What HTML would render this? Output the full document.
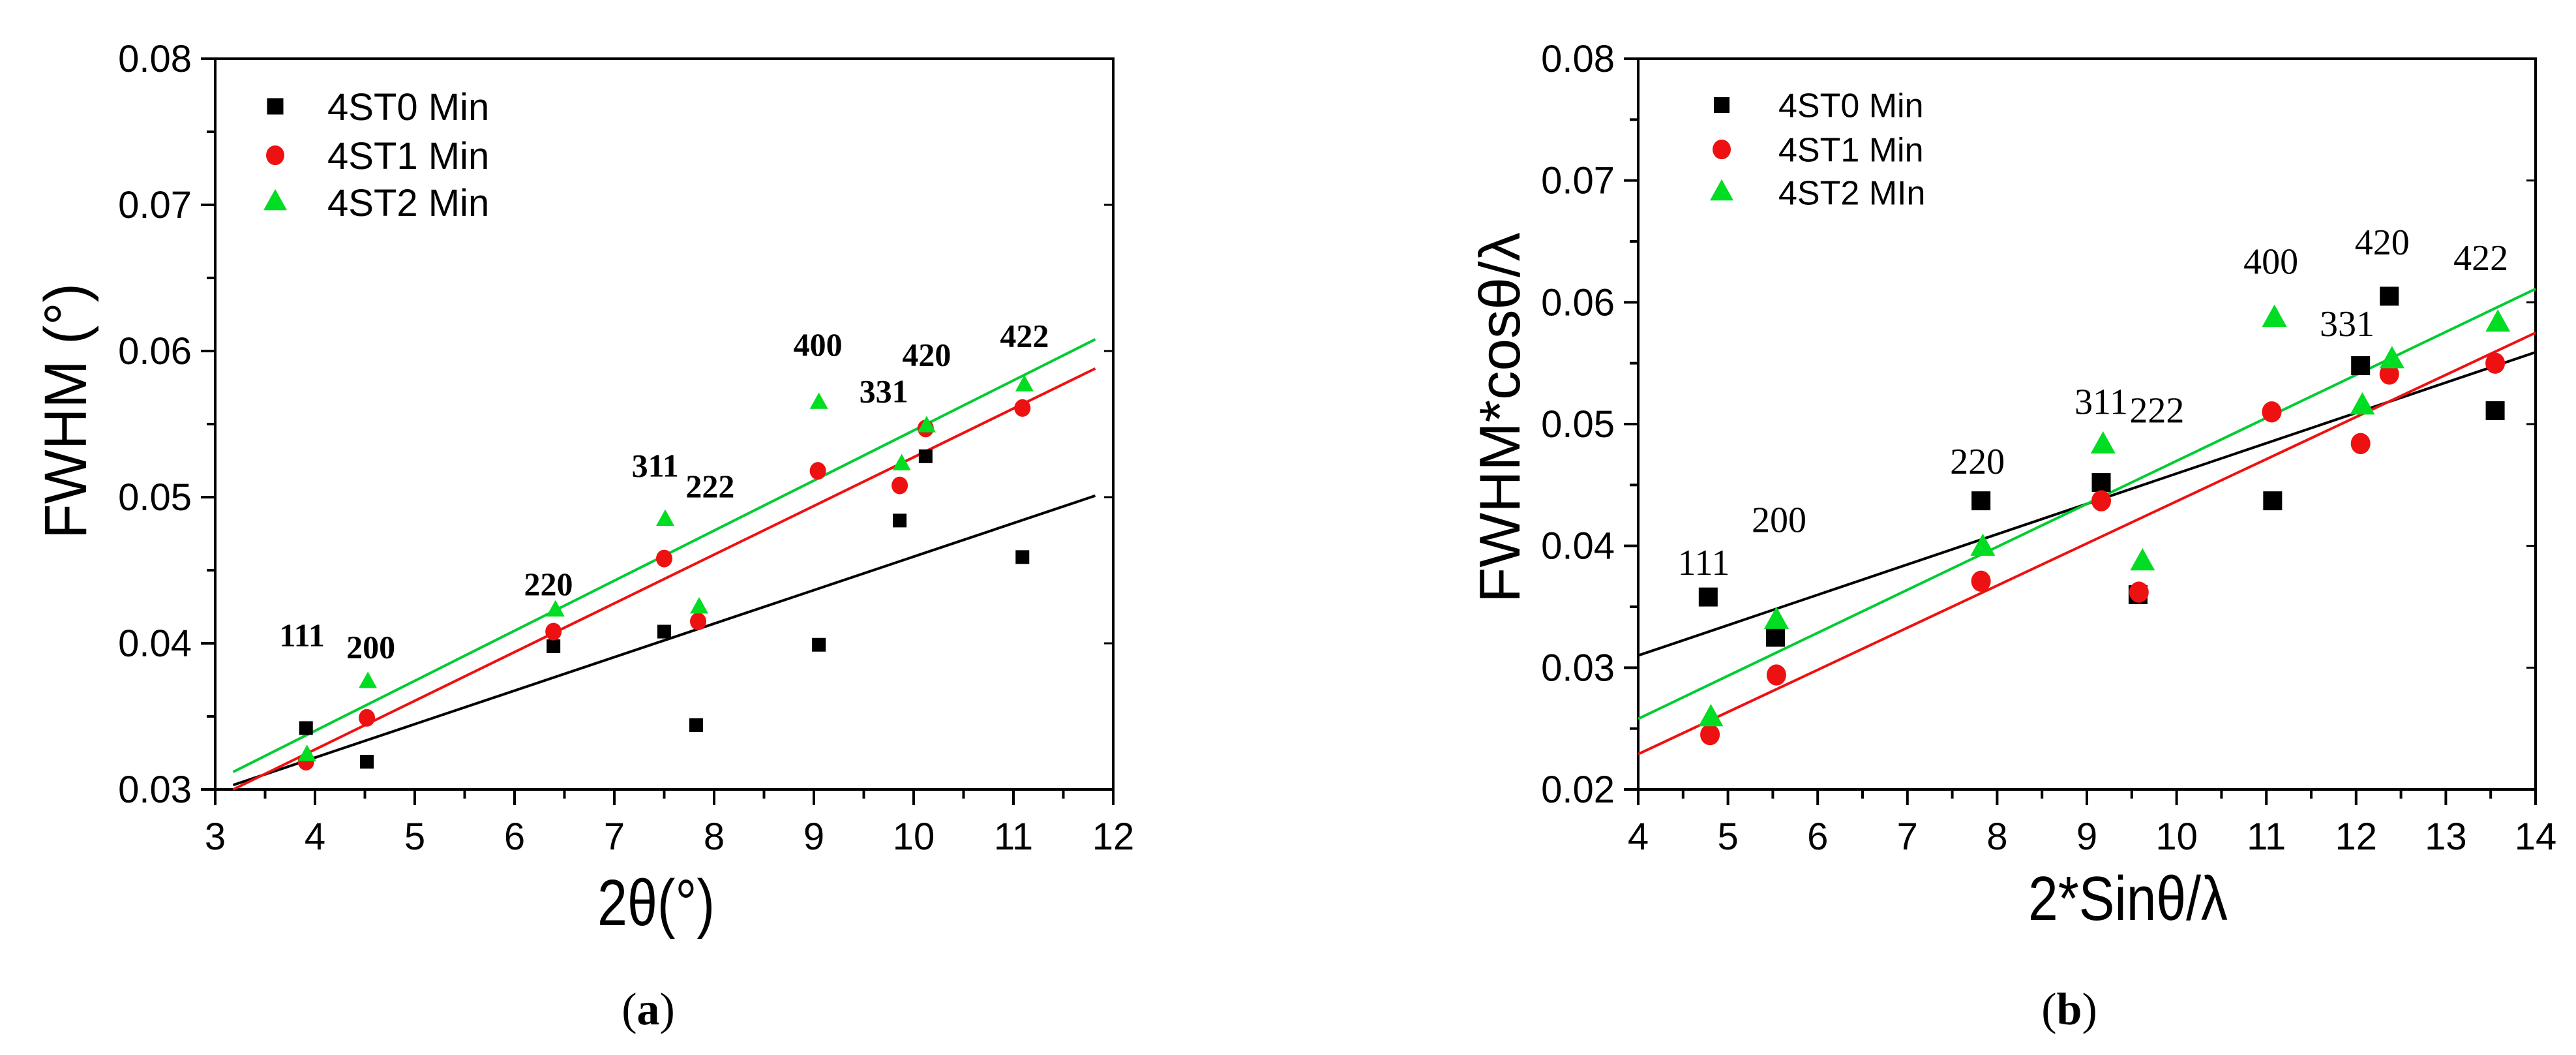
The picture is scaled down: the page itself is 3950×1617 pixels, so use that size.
<!DOCTYPE html>
<html><head><meta charset="utf-8"><style>
html,body{margin:0;padding:0;background:#fff;}
svg{display:block;}
</style></head><body>
<svg id="fig" width="3950" height="1617" viewBox="0 0 3950 1617" xmlns="http://www.w3.org/2000/svg"></svg>
<script>
// ---- Panel (a) data ----
const aX = [3.91, 4.52, 6.39, 7.50, 7.82, 9.05, 9.86, 10.12, 11.09];
const aS0 = [0.0342, 0.0319, 0.0398, 0.0408, 0.0344, 0.0399, 0.0484, 0.0528, 0.0459];
const aX1 = [3.91, 4.52, 6.39, 7.50, 7.84, 9.04, 9.86, 10.12, 11.09];
const aS1 = [0.0319, 0.0349, 0.0408, 0.0458, 0.0415, 0.0518, 0.0508, 0.0547, 0.0561];
const aX2 = [3.92, 4.53, 6.41, 7.51, 7.85, 9.05, 9.88, 10.13, 11.11];
const aS2 = [0.0325, 0.0375, 0.0424, 0.0486, 0.0426, 0.0566, 0.0524, 0.0550, 0.0578];
const aFitX = [3.18, 11.82];
const aFit0 = [0.0303, 0.0501];
const aFit1 = [0.0300, 0.0588];
const aFit2 = [0.0312, 0.0608];
const aLabels = ["111","200","220","311","222","400","331","420","422"];
const aLabX = [3.87, 4.56, 6.34, 7.41, 7.96, 9.04, 9.70, 10.13, 11.11];
const aLabY = [0.0406, 0.0398, 0.0441, 0.0522, 0.0508, 0.0605, 0.0573, 0.0598, 0.0611];
const aXTicks = ["3","4","5","6","7","8","9","10","11","12"];
const aYTicks = ["0.03","0.04","0.05","0.06","0.07","0.08"];
// ---- Panel (b) data ----
const bX0 = [4.78, 5.53, 7.82, 9.16, 9.57, 11.07, 12.05, 12.37, 13.55];
const bS0 = [0.0358, 0.0325, 0.0437, 0.0452, 0.0360, 0.0437, 0.0548, 0.0605, 0.0511];
const bX1 = [4.80, 5.54, 7.82, 9.16, 9.58, 11.06, 12.05, 12.37, 13.55];
const bS1 = [0.0245, 0.0294, 0.0371, 0.0437, 0.0362, 0.0510, 0.0484, 0.0541, 0.0550];
const bX2 = [4.81, 5.54, 7.84, 9.18, 9.62, 11.09, 12.07, 12.40, 13.58];
const bS2 = [0.0261, 0.0341, 0.0401, 0.0485, 0.0389, 0.0589, 0.0517, 0.0555, 0.0585];
const bFitX = [4, 14];
const bFit0 = [0.0310, 0.0559];
const bFit1 = [0.0229, 0.0575];
const bFit2 = [0.0258, 0.0611];
const bLabels = ["111","200","220","311","222","400","331","420","422"];
const bLabX = [4.73, 5.57, 7.78, 9.16, 9.78, 11.05, 11.90, 12.29, 13.39];
const bLabY = [0.0386, 0.0421, 0.0469, 0.0518, 0.0511, 0.0633, 0.0582, 0.0649, 0.0636];
const bXTicks = ["4","5","6","7","8","9","10","11","12","13","14"];
const bYTicks = ["0.02","0.03","0.04","0.05","0.06","0.07","0.08"];

const NS = "http://www.w3.org/2000/svg";
const svg = document.getElementById('fig');
const GREEN = "#00dd22", RED = "#ee1111", GREENL = "#00cc33";
function mk(tag, attrs, parent){ const e=document.createElementNS(NS,tag); for(const k in attrs) e.setAttribute(k,attrs[k]); (parent||svg).appendChild(e); return e; }

function panel(cfg){
  const g = mk('g',{});
  
  
  const L=cfg.L,R=cfg.R,T=cfg.T,B=cfg.B;
  const sx = v => L + (v-cfg.x0)/(cfg.x1-cfg.x0)*(R-L);
  const sy = v => B - (v-cfg.y0)/(cfg.y1-cfg.y0)*(B-T);
  // frame
  const fr = mk('rect',{x:L,y:T,width:R-L,height:B-T,fill:'none',stroke:'#000','stroke-width':4},g);
  
  
  // x ticks
  const xt = cfg.xTicks.map(Number);
  for(let i=0;i<xt.length;i++){
    const x=sx(xt[i]);
    const t=mk('line',{x1:x,y1:B,x2:x,y2:B+24,stroke:'#000','stroke-width':4},g);
    
    
    const lb=mk('text',{x:x,y:B+92,'text-anchor':'middle','font-family':'Liberation Sans, sans-serif','font-size':58},g);
    lb.textContent=cfg.xTicks[i];
    
    
    if(i<xt.length-1){ const m=sx((xt[i]+xt[i+1])/2);
      const mt=mk('line',{x1:m,y1:B,x2:m,y2:B+14,stroke:'#000','stroke-width':4},g);
      
       }
  }
  const yt = cfg.yTicks.map(Number);
  for(let i=0;i<yt.length;i++){
    const y=sy(yt[i]);
    const t=mk('line',{x1:L-22,y1:y,x2:L,y2:y,stroke:'#000','stroke-width':4},g);
    
    
    const t2=mk('line',{x1:R-14,y1:y,x2:R,y2:y,stroke:'#000','stroke-width':3},g);
    
    
    const lb=mk('text',{x:L-36,y:y+20,'text-anchor':'end','font-family':'Liberation Sans, sans-serif','font-size':58},g);
    lb.textContent=cfg.yTicks[i];
    
    
    if(i<yt.length-1){ const m=sy((yt[i]+yt[i+1])/2);
      const mt=mk('line',{x1:L-13,y1:m,x2:L,y2:m,stroke:'#000','stroke-width':4},g);
      
       }
  }
  // fit lines
  const fits=[[cfg.fit0,'#000'],[cfg.fit1,RED],[cfg.fit2,GREENL]];
  fits.forEach((f,k)=>{
    const ln=mk('line',{x1:sx(cfg.fitX[0]),y1:sy(f[0][0]),x2:sx(cfg.fitX[1]),y2:sy(f[0][1]),stroke:f[1],'stroke-width':4},g);
    
    
  });
  const ms=cfg.ms;
  function sq(x,y,s,name){ const e=mk('rect',{x:x-s/2,y:y-s/2,width:s,height:s,fill:'#000'},g);   }
  function ci(x,y,r,name){ const e=mk('ellipse',{cx:x,cy:y,rx:r,ry:r*1.08,fill:RED},g);   }
  function tri(x,y,s,name){ const h=s*0.9; const e=mk('polygon',{points:`${x},${y-h/2} ${x+s/2},${y+h/2} ${x-s/2},${y+h/2}`,fill:GREEN},g);   }
  cfg.x0s.forEach((v,i)=>sq(sx(v),sy(cfg.s0[i]),ms[0],'point-4st0'));
  cfg.x1s.forEach((v,i)=>ci(sx(v),sy(cfg.s1[i]),ms[1],'point-4st1'));
  cfg.x2s.forEach((v,i)=>tri(sx(v),sy(cfg.s2[i]),ms[2],'point-4st2'));
  // peak labels
  cfg.labels.forEach((s,i)=>{
    const t=mk('text',{x:sx(cfg.labX[i]),y:sy(cfg.labY[i])+18,'text-anchor':'middle','font-family':'Liberation Serif, serif','font-size':cfg.labFs,'font-weight':cfg.labW},g);
    t.textContent=s;
    
    
  });
  // legend
  const lg=mk('g',{},g);
  
  
  const Lx=cfg.legX, rows=cfg.legY;
  sq(Lx,rows[0],cfg.legMs[0],'legend-marker-4st0');
  ci(Lx,rows[1],cfg.legMs[1],'legend-marker-4st1');
  tri(Lx,rows[2]-4,cfg.legMs[2],'legend-marker-4st2');
  cfg.legText.forEach((s,i)=>{
    const t=mk('text',{x:cfg.legTX,y:rows[i]+cfg.legFs*0.36,'font-family':'Liberation Sans, sans-serif','font-size':cfg.legFs},lg);
    t.textContent=s;
    
    
  });
  // axis titles
  const xtl=mk('text',{x:cfg.xtX,y:cfg.xtY,'text-anchor':'middle','font-family':'Liberation Sans, sans-serif','font-size':cfg.xtFs,textLength:cfg.xtLen,lengthAdjust:'spacingAndGlyphs'},g);
  xtl.textContent=cfg.xTitle;
  
  
  const ytl=mk('text',{x:0,y:0,'text-anchor':'middle','font-family':'Liberation Sans, sans-serif','font-size':cfg.ytFs,textLength:cfg.ytLen,lengthAdjust:'spacingAndGlyphs',transform:`translate(${cfg.ytX},${cfg.ytY}) rotate(-90)`},g);
  ytl.textContent=cfg.yTitle;
  
  
  // caption
  const cap=mk('text',{x:cfg.capX,y:1570,'text-anchor':'middle','font-family':'Liberation Serif, serif','font-size':70},g);
  const t1=mk('tspan',{},cap); t1.textContent='(';
  const t2=mk('tspan',{'font-weight':'bold'},cap); t2.textContent=cfg.cap;
  const t3=mk('tspan',{},cap); t3.textContent=')';
  
  
}

panel({name:'panel-a',L:330,R:1707,T:90,B:1210,x0:3,x1:12,y0:0.03,y1:0.08,
  xTicks:aXTicks,yTicks:aYTicks,x0s:aX,s0:aS0,x1s:aX1,s1:aS1,x2s:aX2,s2:aS2,
  fitX:aFitX,fit0:aFit0,fit1:aFit1,fit2:aFit2,ms:[21,12.5,28],
  labels:aLabels,labX:aLabX,labY:aLabY,labFs:50,labW:'bold',
  legX:422,legY:[163,238,310],legMs:[25,14,36],legTX:502,legFs:58,legText:['4ST0 Min','4ST1 Min','4ST2 Min'],
  xTitle:'2θ(°)',xtX:1006,xtY:1418,xtFs:100,xtLen:180,
  yTitle:'FWHM (°)',ytX:132,ytY:630,ytFs:92,ytLen:392,capX:994,cap:'a'});

panel({name:'panel-b',L:2512,R:3888,T:90,B:1210,x0:4,x1:14,y0:0.02,y1:0.08,
  xTicks:bXTicks,yTicks:bYTicks,x0s:bX0,s0:bS0,x1s:bX1,s1:bS1,x2s:bX2,s2:bS2,
  fitX:bFitX,fit0:bFit0,fit1:bFit1,fit2:bFit2,ms:[29,15,38],
  labels:bLabels,labX:bLabX,labY:bLabY,labFs:56,labW:'normal',
  legX:2640,legY:[161,229,295],legMs:[24,14,36],legTX:2727,legFs:52,legText:['4ST0 Min','4ST1 Min','4ST2 MIn'],
  xTitle:'2*Sinθ/λ',xtX:3263,xtY:1410,xtFs:96,xtLen:306,
  yTitle:'FWHM*cosθ/λ',ytX:2330,ytY:640,ytFs:88,ytLen:568,capX:3173,cap:'b'});
</script>
</body></html>
